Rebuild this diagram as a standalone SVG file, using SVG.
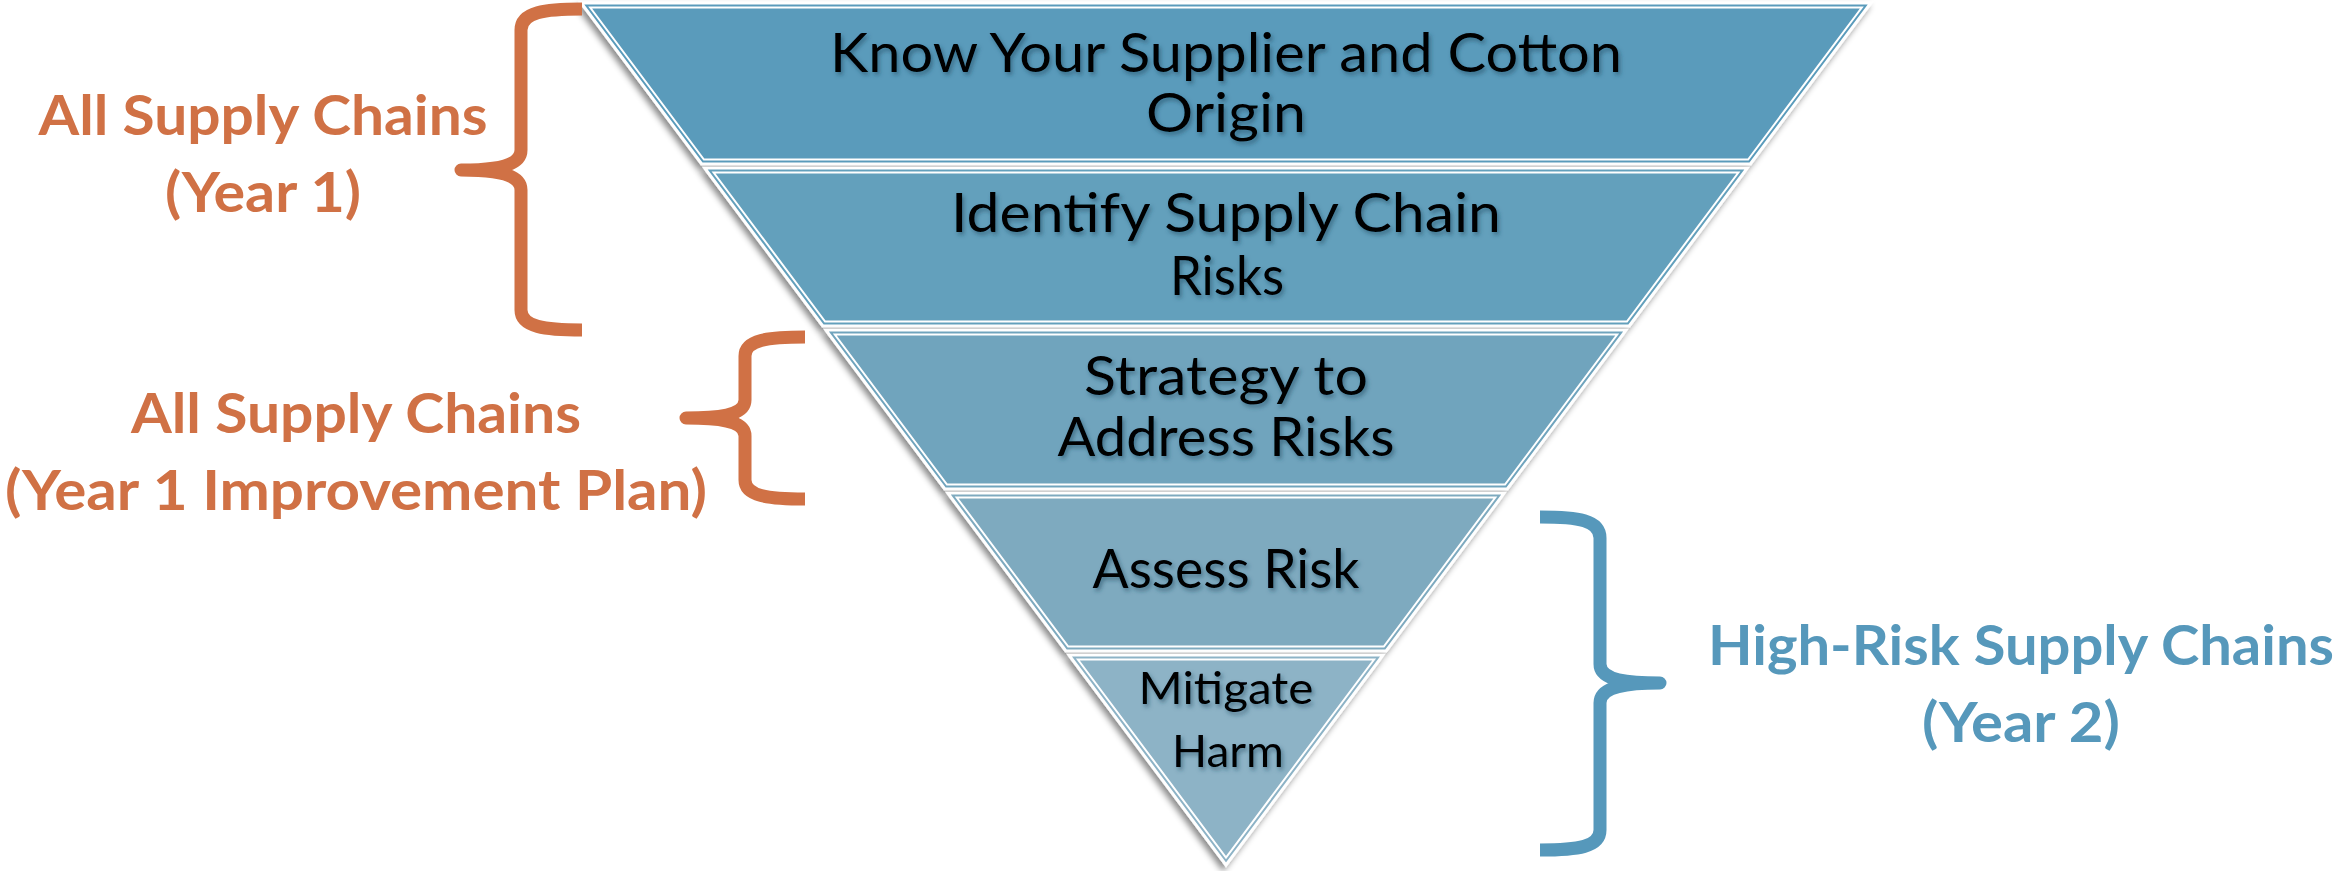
<svg xmlns="http://www.w3.org/2000/svg" width="2338" height="871" viewBox="0 0 2338 871">
<defs>
<filter id="sh" x="-10%" y="-10%" width="120%" height="130%">
<feDropShadow dx="-3" dy="4" stdDeviation="3" flood-color="#000" flood-opacity="0.45"/>
</filter>
<filter id="tsh" x="-10%" y="-20%" width="120%" height="150%">
<feDropShadow dx="2" dy="3" stdDeviation="2" flood-color="#1d4a60" flood-opacity="0.55"/>
</filter>
</defs>
<style>
.band{stroke:#fff;stroke-width:3;stroke-linejoin:miter}
.inner{fill:none;stroke:#fff;stroke-width:2}
.ft{font-family:Lato,"Open Sans",sans-serif;font-size:54px;fill:#000;text-anchor:middle}
.fs{font-size:45px}
.lab{font-family:Lato,"Open Sans",sans-serif;font-weight:bold;font-size:56px;text-anchor:middle}
.or{fill:#D07145}
.bl{fill:#5698BB}
.br{fill:none;stroke-width:13;stroke-linejoin:round;stroke-linecap:butt}
</style>
<g id="band1">
<polygon class="band" filter="url(#sh)" fill="#5A9BBB" points="581.2,3 1870.8,3 1750.3,164 701.7,164"/>
<polygon class="inner" points="590.2,7.5 1861.8,7.5 1748.1,159.5 703.9,159.5"/>
<g filter="url(#tsh)">
<text class="ft" x="1226" y="72" textLength="792" lengthAdjust="spacingAndGlyphs">Know Your Supplier and Cotton</text>
<text class="ft" x="1226" y="132" textLength="160" lengthAdjust="spacingAndGlyphs">Origin</text>
</g>
</g>
<g id="band2">
<polygon class="band" filter="url(#sh)" fill="#64A0BC" points="704.6,168 1747.4,168 1629.2,326 822.8,326"/>
<polygon class="inner" points="713.6,172.5 1738.4,172.5 1626.9,321.5 825.1,321.5"/>
<g filter="url(#tsh)">
<text class="ft" x="1226" y="232" textLength="550" lengthAdjust="spacingAndGlyphs">Identify Supply Chain</text>
<text class="ft" x="1227" y="295" textLength="114" lengthAdjust="spacingAndGlyphs">Risks</text>
</g>
</g>
<g id="band3">
<polygon class="band" filter="url(#sh)" fill="#6FA4BD" points="825.8,330 1626.2,330 1507.2,489 944.8,489"/>
<polygon class="inner" points="834.8,334.5 1617.2,334.5 1505,484.5 947,484.5"/>
<g filter="url(#tsh)">
<text class="ft" x="1226" y="395" textLength="284" lengthAdjust="spacingAndGlyphs">Strategy to</text>
<text class="ft" x="1226" y="456" textLength="337" lengthAdjust="spacingAndGlyphs">Address Risks</text>
</g>
</g>
<g id="band4">
<polygon class="band" filter="url(#sh)" fill="#7EAABF" points="947.7,493 1504.3,493 1386.1,651 1065.9,651"/>
<polygon class="inner" points="956.7,497.5 1495.3,497.5 1383.8,646.5 1068.2,646.5"/>
<g filter="url(#tsh)">
<text class="ft" x="1226" y="588" textLength="267" lengthAdjust="spacingAndGlyphs">Assess Risk</text>
</g>
</g>
<g id="band5">
<polygon class="band" filter="url(#sh)" fill="#8DB3C6" points="1068.9,655 1383.1,655 1226,865"/>
<polygon class="inner" points="1077.9,659.5 1374.1,659.5 1226,857.5"/>
<g filter="url(#tsh)">
<text class="ft fs" x="1226" y="704" textLength="175" lengthAdjust="spacingAndGlyphs">Mitigate</text>
<text class="ft fs" x="1228" y="767" textLength="112" lengthAdjust="spacingAndGlyphs">Harm</text>
</g>
</g>
<g id="brackets">
<path class="br" stroke="#D07145" d="M582 9 C545 9 521 12 521 30 L521 150 C521 163 505 170 461 170 C505 170 521 177 521 190 L521 310 C521 327 545 330 582 330"/>
<path class="br" stroke="#D07145" d="M805 337 C768 337 745 340 745 356 L745 400 C745 412 730 418 686 418 C730 418 745 424 745 436 L745 480 C745 496 768 499 805 499"/>
<path class="br" stroke="#5698BB" d="M1540 517 C1578 517 1600 520 1600 538 L1600 664 C1600 677 1616 683 1660 683 C1616 683 1600 690 1600 703 L1600 830 C1600 847 1578 850 1540 850"/>
</g>
<g id="label1">
<text class="lab or" x="263" y="135" textLength="449" lengthAdjust="spacingAndGlyphs">All Supply Chains</text>
<text class="lab or" x="263" y="212" textLength="196" lengthAdjust="spacingAndGlyphs">(Year 1)</text>
</g>
<g id="label2">
<text class="lab or" x="356" y="433" textLength="450" lengthAdjust="spacingAndGlyphs">All Supply Chains</text>
<text class="lab or" x="356" y="510" textLength="702" lengthAdjust="spacingAndGlyphs">(Year 1 Improvement Plan)</text>
</g>
<g id="label3">
<text class="lab bl" x="2021" y="665" textLength="626" lengthAdjust="spacingAndGlyphs">High-Risk Supply Chains</text>
<text class="lab bl" x="2021" y="742" textLength="198" lengthAdjust="spacingAndGlyphs">(Year 2)</text>
</g>
</svg>
